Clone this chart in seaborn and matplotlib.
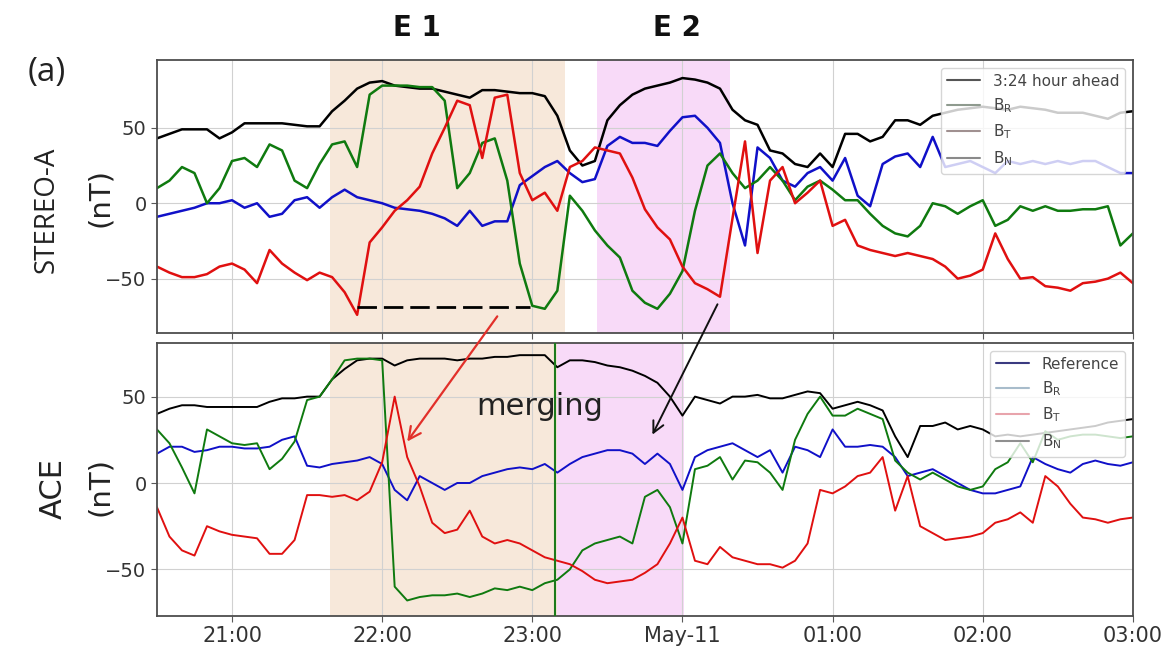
import matplotlib
matplotlib.use("Agg")

import numpy as np
import matplotlib.pyplot as plt
import seaborn as sns
from matplotlib.lines import Line2D
from matplotlib.patches import ConnectionPatch

# sample grid: minutes after 20:30, every 5 minutes up to 03:00
minutes = np.arange(0, 391, 5)

tick_pos = [30, 90, 150, 210, 270, 330, 390]
tick_labels = ["21:00", "22:00", "23:00", "May-11", "01:00", "02:00", "03:00"]

# STEREO-A panel (nT)
stereo_black = [43, 46, 49, 49, 49, 43, 47, 53, 53, 53,
                53, 52, 51, 51, 61, 68, 76, 80, 81, 78,
                77, 76, 76, 74, 72, 70, 75, 75, 74, 73,
                73, 71, 58, 35, 25, 28, 55, 65, 72, 76,
                78, 80, 83, 82, 80, 76, 62, 55, 52, 35,
                33, 26, 24, 33, 24, 46, 46, 41, 44, 55,
                55, 52, 58, 60, 62, 63, 64, 63, 62, 64,
                63, 62, 60, 60, 60, 58, 56, 60, 61]
stereo_green = [10, 15, 24, 20, 0, 10, 28, 30, 24, 39,
                35, 15, 10, 26, 39, 41, 24, 72, 78, 78,
                78, 77, 77, 68, 10, 20, 40, 43, 15, -40,
                -68, -70, -58, 5, -5, -18, -28, -36, -58, -66,
                -70, -60, -45, -5, 25, 33, 20, 10, 15, 24,
                15, 2, 11, 15, 9, 2, 2, -7, -15, -20,
                -22, -15, 0, -2, -7, -2, 2, -15, -11, -2,
                -5, -2, -5, -5, -4, -4, -2, -28, -20]
stereo_red = [-42, -46, -49, -49, -47, -42, -40, -44, -53, -31,
              -40, -46, -51, -46, -49, -59, -74, -26, -16, -5,
              2, 11, 33, 50, 68, 65, 30, 70, 72, 20,
              2, 7, -5, 24, 28, 37, 35, 33, 17, -4,
              -16, -24, -42, -53, -57, -62, -10, 41, -33, 15,
              24, 0, 7, 15, -15, -11, -28, -31, -33, -35,
              -33, -35, -37, -42, -50, -48, -44, -20, -37, -50,
              -49, -55, -56, -58, -53, -52, -50, -46, -53]
stereo_blue = [-9, -7, -5, -3, 0, 0, 2, -3, 0, -9,
               -7, 2, 4, -3, 4, 9, 4, 2, 0, -3,
               -4, -5, -7, -10, -15, -5, -15, -12, -12, 12,
               18, 24, 28, 20, 14, 16, 38, 44, 40, 40,
               38, 48, 57, 58, 50, 40, 0, -28, 37, 30,
               15, 11, 20, 24, 15, 30, 5, -2, 26, 31,
               33, 24, 44, 24, 26, 28, 24, 20, 28, 26,
               28, 26, 28, 26, 28, 28, 24, 20, 20]

# ACE panel (nT)
ace_black = [40, 43, 45, 45, 44, 44, 44, 44, 44, 47,
             49, 49, 50, 50, 60, 66, 71, 72, 72, 68,
             71, 72, 72, 72, 71, 72, 72, 73, 73, 74,
             74, 74, 67, 71, 71, 70, 68, 67, 65, 62,
             58, 50, 39, 50, 48, 46, 50, 50, 51, 49,
             49, 51, 53, 52, 43, 45, 47, 45, 42, 27,
             15, 33, 33, 35, 31, 33, 31, 27, 28, 27,
             28, 29, 30, 31, 32, 33, 35, 36, 37]
ace_green = [31, 23, 9, -6, 31, 27, 23, 22, 23, 8,
             14, 24, 48, 50, 60, 71, 72, 72, 71, -60,
             -68, -66, -65, -65, -64, -66, -64, -61, -62, -60,
             -62, -58, -56, -50, -39, -35, -33, -31, -35, -8,
             -4, -14, -35, 8, 10, 15, 2, 13, 12, 6,
             -4, 25, 40, 50, 39, 39, 43, 40, 37, 13,
             6, 2, 6, 2, -2, -4, -2, 8, 12, 23,
             12, 30, 25, 27, 28, 28, 27, 26, 27]
ace_red = [-14, -31, -39, -42, -25, -28, -30, -31, -32, -41,
           -41, -33, -7, -7, -8, -7, -10, -5, 12, 50,
           15, -2, -23, -29, -27, -16, -31, -35, -33, -35,
           -39, -43, -45, -47, -51, -56, -58, -57, -56, -52,
           -47, -35, -20, -45, -47, -37, -43, -45, -47, -47,
           -49, -45, -35, -4, -6, -2, 4, 6, 15, -16,
           4, -25, -29, -33, -32, -31, -29, -23, -21, -17,
           -23, 4, -2, -12, -20, -21, -23, -21, -20]
ace_blue = [17, 21, 21, 18, 19, 21, 21, 20, 20, 21,
            25, 27, 10, 9, 11, 12, 13, 15, 11, -4,
            -10, 4, 0, -4, 0, 0, 4, 6, 8, 9,
            8, 11, 6, 11, 15, 17, 19, 19, 17, 11,
            17, 11, -4, 15, 19, 21, 23, 19, 15, 19,
            6, 21, 19, 15, 31, 21, 21, 22, 21, 15,
            4, 6, 8, 4, 0, -4, -6, -6, -4, -2,
            15, 11, 8, 6, 11, 13, 11, 10, 12]

top_legend = ["3:24 hour ahead", r"B$_{\rm R}$", r"B$_{\rm T}$", r"B$_{\rm N}$"]
bottom_legend = ["Reference", r"B$_{\rm R}$", r"B$_{\rm T}$", r"B$_{\rm N}$"]

sns.set_style("whitegrid", {"axes.edgecolor": ".3", "grid.color": ".82",
                            "xtick.bottom": True, "ytick.left": True})

fig = plt.figure(figsize=(11.73, 6.49), dpi=100)
ax1 = fig.add_axes([0.1338, 0.487, 0.832, 0.4206])
ax2 = fig.add_axes([0.1338, 0.0508, 0.832, 0.4206])

e1_col = "#f7e8da"
e2_col = "#f8daf8"

# event shading
ax1.axvspan(69.2, 163.2, color=e1_col, lw=0, zorder=0)
ax1.axvspan(176, 229.2, color=e2_col, lw=0, zorder=0)
ax2.axvspan(69.2, 160, color=e1_col, lw=0, zorder=0)
ax2.axvspan(160, 210.8, color=e2_col, lw=0, zorder=0)
ax2.axvline(159.2, color="#1c7a1c", lw=1.5, zorder=3)

for ax, series, lw in [(ax1, [stereo_black, stereo_green, stereo_red, stereo_blue], 1.8),
                       (ax2, [ace_black, ace_green, ace_red, ace_blue], 1.4)]:
    black, green, red, blue = series
    sns.lineplot(x=minutes, y=black, color="black", lw=lw, ax=ax, zorder=2)
    sns.lineplot(x=minutes, y=blue, color="#1010c8", lw=lw, ax=ax, zorder=2)
    sns.lineplot(x=minutes, y=green, color="#0f7a0f", lw=lw, ax=ax, zorder=2)
    sns.lineplot(x=minutes, y=red, color="#e01010", lw=lw, ax=ax, zorder=2)
    ax.set_xlim(0, 390)
    ax.set_xticks(tick_pos)
    ax.set_yticks([-50, 0, 50])
    ax.tick_params(axis="y", labelsize=14, labelcolor="#333333", length=4, color=".35")
    ax.tick_params(axis="x", labelsize=15, labelcolor="#333333", length=4, color=".35")
    ax.set_xlabel("")
    ax.set_ylabel("")
    for s in ax.spines.values():
        s.set_linewidth(1.3)

ax1.set_ylim(-86, 95)
ax2.set_ylim(-77, 81)
ax1.set_xticklabels([])
ax2.set_xticklabels(tick_labels)

# dashed level in E1
ax1.hlines(-69, 80, 149, colors="black", linestyles=(0, (7, 2.5)), lw=2, zorder=4)

# legends
h_top = [Line2D([], [], color=c, lw=1.5) for c in ["#555555", "#8e9a8e", "#a09090", "#8a8a8a"]]
ax1.legend(h_top, top_legend, loc="upper right", fontsize=11, framealpha=0.8,
           edgecolor="#cccccc", handlelength=2.2, labelcolor="#444444")
h_bot = [Line2D([], [], color=c, lw=1.5) for c in ["#3a3a80", "#a8bccb", "#e8a4ac", "#8f8f8f"]]
ax2.legend(h_bot, bottom_legend, loc="upper right", fontsize=11, framealpha=0.8,
           edgecolor="#cccccc", handlelength=2.2, labelcolor="#444444")

# arrows between panels
fig.add_artist(ConnectionPatch(xyA=(136, -75), coordsA=ax1.transData,
                               xyB=(100, 24), coordsB=ax2.transData,
                               arrowstyle="->", color="#e2302a", lw=1.6,
                               mutation_scale=22, zorder=6))
fig.add_artist(ConnectionPatch(xyA=(224, -67), coordsA=ax1.transData,
                               xyB=(198, 28), coordsB=ax2.transData,
                               arrowstyle="->", color="#111111", lw=1.4,
                               mutation_scale=20, zorder=6))

ax2.text(153, 44, "merging", ha="center", va="center", fontsize=22, color="#222222", zorder=5)

fig.text(0.3555, 0.957, "E 1", ha="center", va="center", fontsize=20, fontweight="bold", color="#111111")
fig.text(0.577, 0.957, "E 2", ha="center", va="center", fontsize=20, fontweight="bold", color="#111111")
fig.text(0.04, 0.888, "(a)", ha="center", va="center", fontsize=24, color="#222222",
         family=["Open Sans", "DejaVu Sans"])

fig.text(0.040, 0.676, "STEREO-A", rotation=90, ha="center", va="center", fontsize=20,
         color="#222222", family=["Liberation Sans Narrow", "Open Sans", "DejaVu Sans"])
fig.text(0.085, 0.695, "(nT)", rotation=90, ha="center", va="center", fontsize=21, color="#222222")
fig.text(0.045, 0.248, "ACE", rotation=90, ha="center", va="center", fontsize=22, color="#222222")
fig.text(0.085, 0.250, "(nT)", rotation=90, ha="center", va="center", fontsize=21, color="#222222")

fig.savefig("out.png", dpi=100)
